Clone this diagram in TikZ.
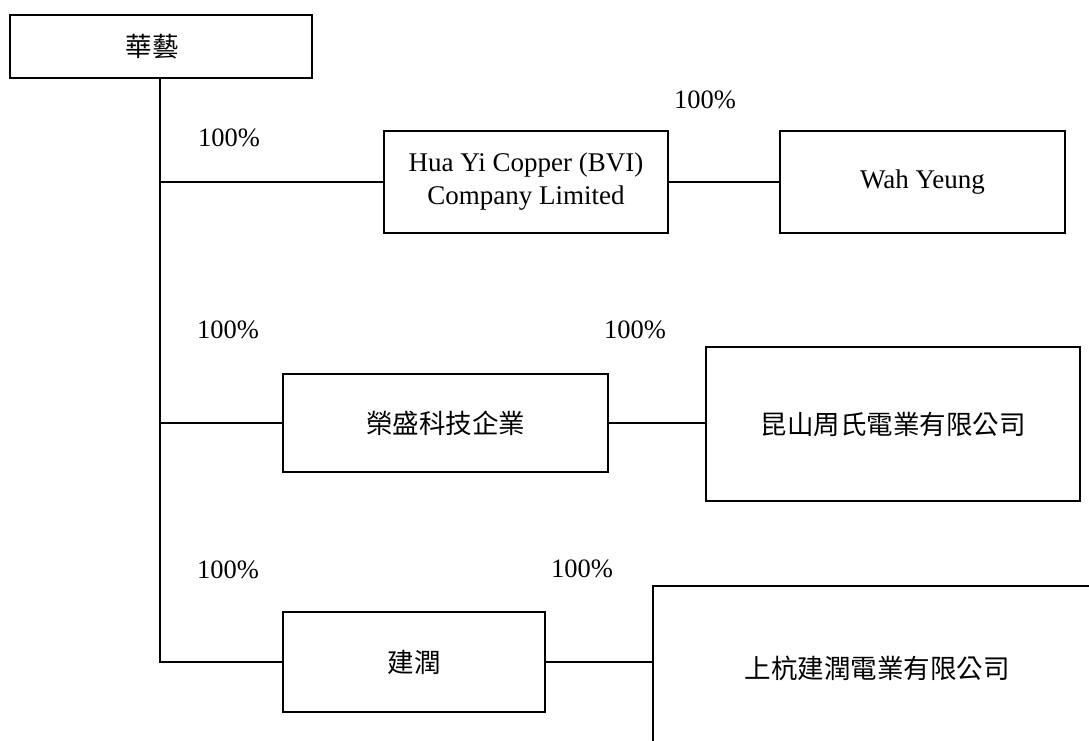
\documentclass[tikz,border=0pt]{standalone}
\usepackage{fontspec}
\setmainfont{Liberation Serif}
\newfontfamily\cjk{Noto Sans CJK TC}
\begin{document}
\begin{tikzpicture}[x=1pt,y=-1pt,
  box/.style={draw,line width=1.3pt,inner sep=0pt,align=center,
    font=\fontsize{27}{33}\selectfont},
  cbox/.style={box,font=\cjk\fontsize{26.5}{32}\selectfont},
  link/.style={line width=1.3pt},
  pct/.style={font=\fontsize{26.5}{32}\selectfont,inner sep=0pt}]
\useasboundingbox (0,0) rectangle (1089,740);
\clip (0,0) rectangle (1089,740);
\fill[white] (0,0) rectangle (1089,740);
% boxes
\node[cbox,minimum width=302pt,minimum height=63pt] (hy) at (161,46.5) {\hspace*{-18pt}華藝};
\node[box,minimum width=284pt,minimum height=102pt] (huayi) at (526,182) {Hua Yi Copper (BVI)\\Company Limited};
\node[box,minimum width=285pt,minimum height=102pt] (wah) at (922.5,182) {Wah Yeung};
\node[cbox,minimum width=325pt,minimum height=98pt] (rs) at (445.5,423) {榮盛科技企業};
\node[cbox,minimum width=374pt,minimum height=154pt] (ks) at (893,424) {昆山周氏電業有限公司};
\node[cbox,minimum width=262pt,minimum height=100pt] (jr) at (414,662) {建潤};
\node[cbox,minimum width=448pt,minimum height=164pt] (sh) at (877,668) {上杭建潤電業有限公司};
% connectors
\coordinate (top) at (160,78);
\coordinate (bot) at (160,662);
\draw[link] (top) -- (bot) -- (jr.west);
\draw[link] (top |- huayi.west) -- (huayi.west);
\draw[link] (top |- rs.west) -- (rs.west);
\draw[link] (huayi.east) -- (wah.west);
\draw[link] (rs.east) -- (rs.east -| ks.west);
\draw[link] (jr.east) -- (jr.east -| sh.west);
% labels
\node[pct] (p1) at (229,138) {100\%};
\node[pct] (p2) at (705,100) {100\%};
\node[pct] (p3) at (228,330) {100\%};
\node[pct] (p4) at (635,330) {100\%};
\node[pct] (p5) at (228,570) {100\%};
\node[pct] (p6) at (582,569) {100\%};
\end{tikzpicture}
\end{document}
